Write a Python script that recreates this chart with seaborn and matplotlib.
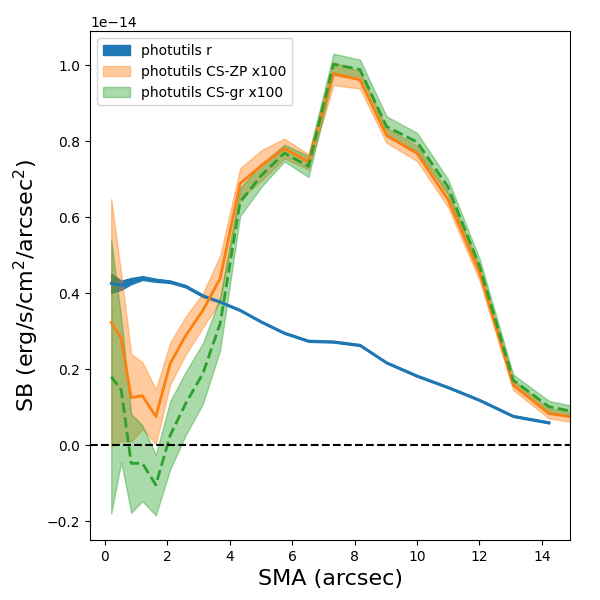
import matplotlib
matplotlib.use("Agg")
import matplotlib.pyplot as plt
import numpy as np
import seaborn as sns

# SMA positions (arcsec)
sma_r = [0.20, 0.52, 0.84, 1.20, 1.63, 2.09, 2.59, 3.14, 3.69, 4.33, 5.02,
         5.75, 6.52, 7.32, 8.17, 9.02, 10.00, 10.99, 12.01, 13.08, 14.23]
sma_cs = sma_r + [15.45]

# surface brightness, in units of 1e-14 erg/s/cm2/arcsec2
sb_r = [0.426, 0.421, 0.432, 0.440, 0.434, 0.430, 0.418, 0.393, 0.377, 0.355, 0.324,
        0.295, 0.274, 0.272, 0.263, 0.217, 0.182, 0.152, 0.118, 0.076, 0.059]
err_r = [0.025, 0.012, 0.008, 0.005, 0.004, 0.003, 0.003, 0.003, 0.002, 0.002, 0.002,
         0.002, 0.002, 0.002, 0.002, 0.002, 0.002, 0.002, 0.002, 0.002, 0.002]

sb_zp = [0.323, 0.281, 0.125, 0.130, 0.075, 0.215, 0.289, 0.355, 0.439, 0.689, 0.737,
         0.781, 0.746, 0.978, 0.962, 0.816, 0.768, 0.647, 0.452, 0.158, 0.083, 0.068]
zp_err_lo = [0.325, 0.27, 0.115, 0.088, 0.072, 0.055, 0.05, 0.045, 0.06, 0.04, 0.04,
             0.026, 0.02, 0.03, 0.023, 0.02, 0.02, 0.02, 0.02, 0.013, 0.013, 0.013]
zp_err_hi = [0.325, 0.17, 0.115, 0.088, 0.072, 0.055, 0.05, 0.045, 0.06, 0.04, 0.04,
             0.026, 0.02, 0.03, 0.023, 0.02, 0.02, 0.02, 0.02, 0.013, 0.013, 0.013]

sb_gr = [0.180, 0.145, -0.048, -0.048, -0.105, 0.026, 0.110, 0.189, 0.320, 0.640, 0.711,
         0.769, 0.734, 1.003, 0.989, 0.839, 0.798, 0.680, 0.469, 0.171, 0.101, 0.081]
err_gr = [0.36, 0.19, 0.13, 0.10, 0.08, 0.09, 0.083, 0.08, 0.07, 0.037, 0.03,
          0.022, 0.028, 0.028, 0.026, 0.027, 0.024, 0.02, 0.02, 0.015, 0.015, 0.015]

scale = 1e-14
pal = sns.color_palette("tab10")

fig, ax = plt.subplots(figsize=(6, 6), dpi=100)
fig.subplots_adjust(left=0.15, right=0.95, top=0.948, bottom=0.1)

x_r = np.array(sma_r)
x_cs = np.array(sma_cs)
y_r = np.array(sb_r) * scale
y_zp = np.array(sb_zp) * scale
y_gr = np.array(sb_gr) * scale

ax.fill_between(x_r, y_r - np.array(err_r) * scale, y_r + np.array(err_r) * scale,
                color=pal[0], label="photutils r")
ax.fill_between(x_cs, y_zp - np.array(zp_err_lo) * scale, y_zp + np.array(zp_err_hi) * scale,
                color=pal[1], alpha=0.4, label="photutils CS-ZP x100")
ax.fill_between(x_cs, y_gr - np.array(err_gr) * scale, y_gr + np.array(err_gr) * scale,
                color=pal[2], alpha=0.4, label="photutils CS-gr x100")

sns.lineplot(x=x_r, y=y_r, ax=ax, color=pal[0], lw=2, legend=False, sort=False)
sns.lineplot(x=x_cs, y=y_zp, ax=ax, color=pal[1], lw=2, legend=False, sort=False)
sns.lineplot(x=x_cs, y=y_gr, ax=ax, color=pal[2], lw=2, linestyle="--",
             legend=False, sort=False)

ax.axhline(0, color="k", ls="--", lw=1.5)

ax.set_xlim(-0.48, 14.9)
ax.set_ylim(-0.25e-14, 1.09e-14)
ax.set_xlabel("SMA (arcsec)", fontsize=16)
ax.set_ylabel("SB (erg/s/cm$^2$/arcsec$^2$)", fontsize=16)
ax.legend(loc="upper left")

fig.savefig("out.png", dpi=100)
